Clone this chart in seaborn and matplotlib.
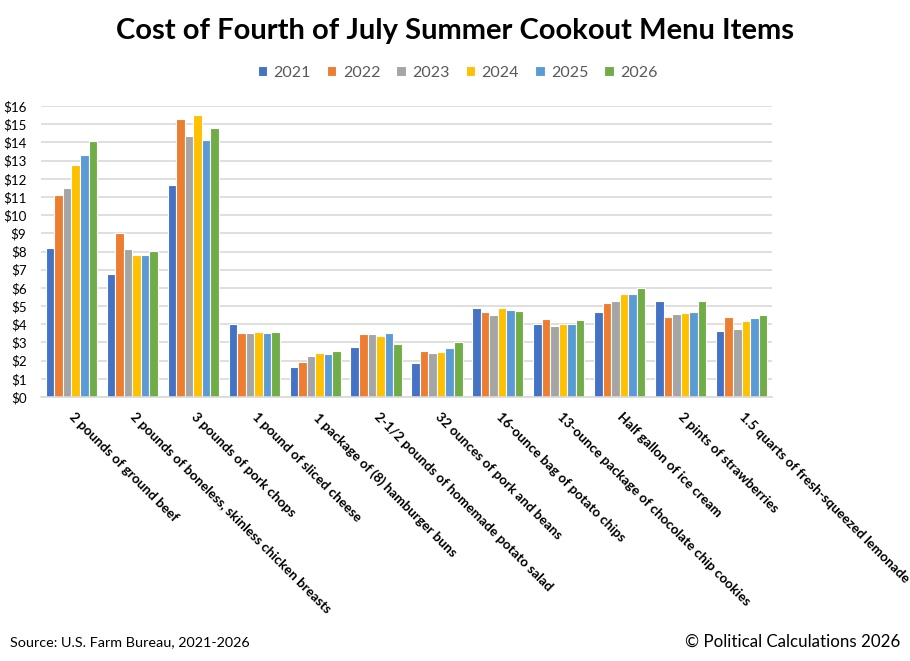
import matplotlib
matplotlib.use("Agg")
import matplotlib.pyplot as plt
import seaborn as sns
import pandas as pd

items = [
    "2 pounds of ground beef",
    "2 pounds of boneless, skinless chicken breasts",
    "3 pounds of pork chops",
    "1 pound of sliced cheese",
    "1 package of (8) hamburger buns",
    "2-1/2 pounds of homemade potato salad",
    "32 ounces of pork and beans",
    "16-ounce bag of potato chips",
    "13-ounce package of chocolate chip cookies",
    "Half gallon of ice cream",
    "2 pints of strawberries",
    "1.5 quarts of fresh-squeezed lemonade",
]
years = ["2021", "2022", "2023", "2024", "2025", "2026"]

cost_2021 = [8.17, 6.74, 11.64, 4.03, 1.63, 2.73, 1.89, 4.91, 4.00, 4.66, 5.30, 3.65]
cost_2022 = [11.09, 9.00, 15.27, 3.50, 1.92, 3.46, 2.51, 4.69, 4.31, 5.15, 4.42, 4.42]
cost_2023 = [11.51, 8.14, 14.37, 3.50, 2.24, 3.45, 2.42, 4.53, 3.90, 5.30, 4.56, 3.72]
cost_2024 = [12.76, 7.83, 15.49, 3.57, 2.42, 3.34, 2.47, 4.88, 4.00, 5.65, 4.60, 4.16]
cost_2025 = [13.32, 7.79, 14.13, 3.54, 2.36, 3.54, 2.69, 4.80, 4.00, 5.68, 4.67, 4.34]
cost_2026 = [14.06, 8.05, 14.79, 3.57, 2.51, 2.91, 3.04, 4.73, 4.23, 5.98, 5.26, 4.51]

y_ticks = list(range(0, 17))
y_tick_labels = ["$" + str(v) for v in y_ticks]

colors = ["#4472C4", "#ED7D31", "#A5A5A5", "#FFC000", "#5B9BD5", "#70AD47"]

series = [cost_2021, cost_2022, cost_2023, cost_2024, cost_2025, cost_2026]
rows = []
for yr, vals in zip(years, series):
    for it, v in zip(items, vals):
        rows.append({"item": it, "year": yr, "cost": v})
df = pd.DataFrame(rows)

sns.set_theme(style="white")
plt.rcParams["font.family"] = ["Lato", "DejaVu Sans"]

fig = plt.figure(figsize=(9.10, 6.61), dpi=100)
ax = fig.add_axes([41 / 910, 1 - 397 / 661, (772 - 41) / 910, (397 - 106) / 661])

sns.barplot(data=df, x="item", y="cost", hue="year", order=items, hue_order=years,
            palette=colors, width=0.84, edgecolor="white", linewidth=0.8,
            saturation=1, ax=ax, errorbar=None)

ax.set_ylim(0, 16)
ax.set_xlim(-0.5, len(items) - 0.5)
ax.set_yticks(y_ticks)
ax.set_yticklabels(y_tick_labels, fontsize=9.6, color="#000000")
ax.yaxis.grid(True, color="#d9d9d9", linewidth=1.2)
ax.set_axisbelow(True)
for s in ["top", "right", "left"]:
    ax.spines[s].set_visible(False)
ax.spines["bottom"].set_color("#d9d9d9")
ax.spines["bottom"].set_linewidth(1.2)
ax.tick_params(axis="both", length=0)
ax.tick_params(axis="y", pad=10.5)
ax.set_xlabel("")
ax.set_ylabel("")

ax.set_xticks(range(len(items)))
ax.set_xticklabels(items, rotation=-45, ha="left", va="center",
                   rotation_mode="anchor", fontsize=9.7, fontweight="bold",
                   color="#000000")
ax.tick_params(axis="x", pad=13)

handles, labels = ax.get_legend_handles_labels()
ax.get_legend().remove()
fig.legend(handles, labels, loc="center", bbox_to_anchor=(0.503, 1 - 73 / 661),
           ncol=6, frameon=False, fontsize=11.5, handlelength=0.6,
           handleheight=0.6, handletextpad=0.4, columnspacing=1.0,
           labelcolor="#595959")

fig.text(0.5, 1 - 31 / 661, "Cost of Fourth of July Summer Cookout Menu Items",
         ha="center", va="center", fontsize=21, fontweight="bold", color="#000000")
fig.text(10 / 910, 1 - 642 / 661, "Source: U.S. Farm Bureau, 2021-2026",
         ha="left", va="center", fontsize=10.35, color="#000000")
fig.text(900 / 910, 1 - 642 / 661, "\u00a9 Political Calculations 2026",
         ha="right", va="center", fontsize=12.2, color="#000000")

fig.savefig("out.png", dpi=100, facecolor="white")
